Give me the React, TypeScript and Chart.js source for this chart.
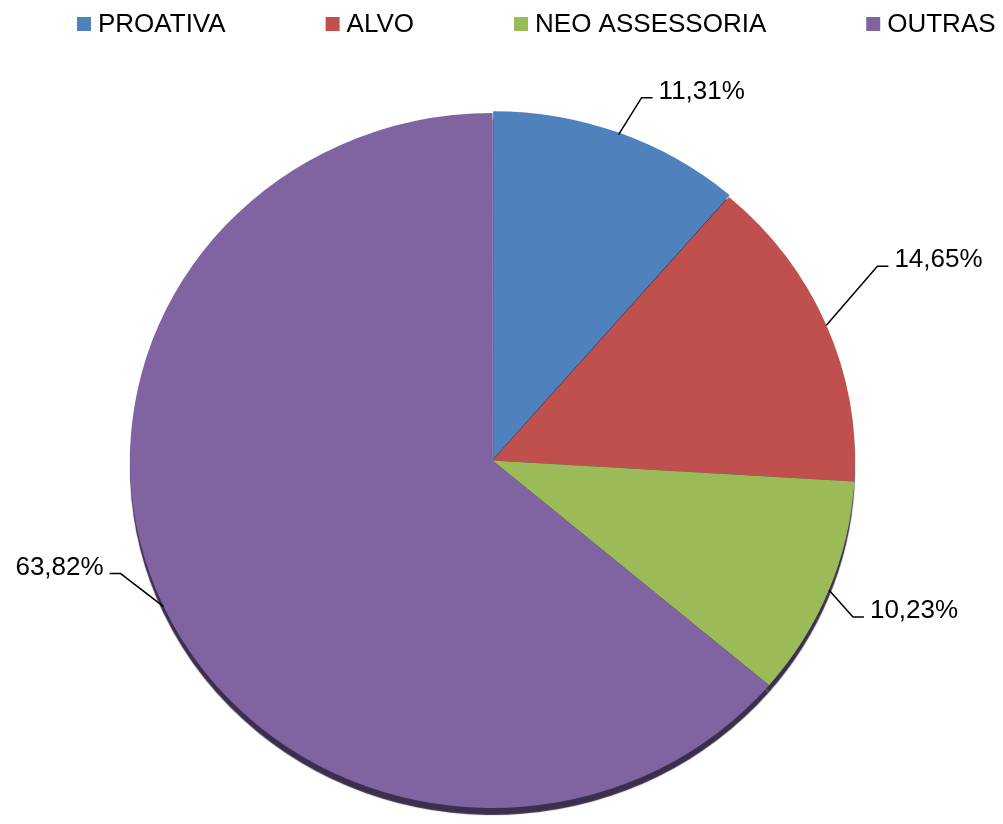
import React, { useEffect, useRef } from "react";
import { Chart, registerables } from "chart.js";

Chart.register(...registerables);

// ---- data ----
const categories = ["PROATIVA", "ALVO", "NEO ASSESSORIA", "OUTRAS"];
const shares = [11.31, 14.65, 10.23, 63.82];
const sliceColors = ["#4F81BD", "#C0504D", "#9BBB59", "#8064A2"];

const valueLabel = (v: number) => v.toFixed(2).replace(".", ",") + "%";

// ---- styling ----
const FONT = '"Liberation Sans", Arial, Helvetica, sans-serif';
const Y_SCALE = 348 / 363;
const CANVAS_W = 1003;
const CANVAS_H = 840;

const ellipsePlugin = {
  id: "ellipseTilt",
  beforeDatasetsDraw(chart: any) {
    const ctx = chart.ctx;
    const a = chart.chartArea;
    const cx = (a.left + a.right) / 2;
    const cy = (a.top + a.bottom) / 2;
    ctx.save();
    ctx.translate(cx, cy);
    ctx.scale(1, Y_SCALE);
    ctx.translate(-cx, -cy);
    ctx.shadowColor = "rgba(50,36,68,0.95)";
    ctx.shadowOffsetX = 0;
    ctx.shadowOffsetY = 7;
    ctx.shadowBlur = 1;
  },
  afterDatasetsDraw(chart: any) {
    chart.ctx.restore();
  },
};

const labelPlugin = {
  id: "leaderLabels",
  afterDraw(chart: any, _args: any, opts: any) {
    const ctx = chart.ctx;
    const meta = chart.getDatasetMeta(0);
    const offsets = opts.offsets as number[][];
    ctx.save();
    ctx.font = `26px ${FONT}`;
    ctx.fillStyle = "#000";
    ctx.strokeStyle = "#000";
    ctx.lineWidth = 1.5;
    meta.data.forEach((el: any, i: number) => {
      const p = el.getProps(["x", "y", "startAngle", "endAngle", "outerRadius"], true);
      const mid = (p.startAngle + p.endAngle) / 2;
      const ex = p.x + p.outerRadius * Math.cos(mid);
      const ey = p.y + Y_SCALE * p.outerRadius * Math.sin(mid);
      const [dx, dy] = offsets[i];
      const bx = ex + dx;
      const by = ey + dy;
      const dir = dx >= 0 ? 1 : -1;
      const hx = bx + dir * 11;
      ctx.beginPath();
      ctx.moveTo(ex, ey);
      ctx.lineTo(bx, by);
      ctx.lineTo(hx, by);
      ctx.stroke();
      ctx.textAlign = dir > 0 ? "left" : "right";
      ctx.textBaseline = "alphabetic";
      ctx.fillText(valueLabel(shares[i]), hx + dir * 6, by + 1);
    });
    ctx.restore();
  },
};

const legendPlugin = {
  id: "topLegend",
  afterDraw(chart: any, _args: any, opts: any) {
    const ctx = chart.ctx;
    ctx.save();
    ctx.font = `26px ${FONT}`;
    ctx.textAlign = "left";
    ctx.textBaseline = "alphabetic";
    let x = opts.startX;
    categories.forEach((name, i) => {
      ctx.fillStyle = sliceColors[i];
      ctx.fillRect(x, opts.boxTop, opts.box, opts.box);
      ctx.fillStyle = "#000";
      const tx = x + opts.box + opts.textGap;
      ctx.fillText(name, tx, opts.baseline);
      x = tx + ctx.measureText(name).width + opts.itemGap;
    });
    ctx.restore();
  },
};

export default function App() {
  const ref = useRef<HTMLCanvasElement | null>(null);

  useEffect(() => {
    if (!ref.current) return;
    const chart = new Chart(ref.current, {
      type: "pie",
      data: {
        labels: categories,
        datasets: [
          {
            data: shares,
            backgroundColor: sliceColors,
            borderWidth: 0,
            offset: [6, 0, 0, 0],
            hoverOffset: 0,
          },
        ],
      },
      options: {
        responsive: false,
        animation: false,
        events: [],
        layout: { padding: { left: 127, right: 145, top: 95, bottom: 14 } },
        plugins: {
          legend: { display: false },
          tooltip: { enabled: false },
          leaderLabels: {
            offsets: [
              [23, -37],
              [51, -59],
              [24, 27],
              [-43, -33],
            ],
          },
          topLegend: { startX: 77, boxTop: 17, box: 14, textGap: 7, baseline: 32, itemGap: 100 },
        } as any,
      },
      plugins: [ellipsePlugin, labelPlugin, legendPlugin],
    });
    return () => chart.destroy();
  }, []);

  return (
    <div
      style={{
        position: "fixed",
        left: 0,
        top: 0,
        width: CANVAS_W,
        height: 824,
        overflow: "hidden",
        background: "#fff",
      }}
    >
      <canvas ref={ref} width={CANVAS_W} height={CANVAS_H} style={{ display: "block" }} />
    </div>
  );
}
